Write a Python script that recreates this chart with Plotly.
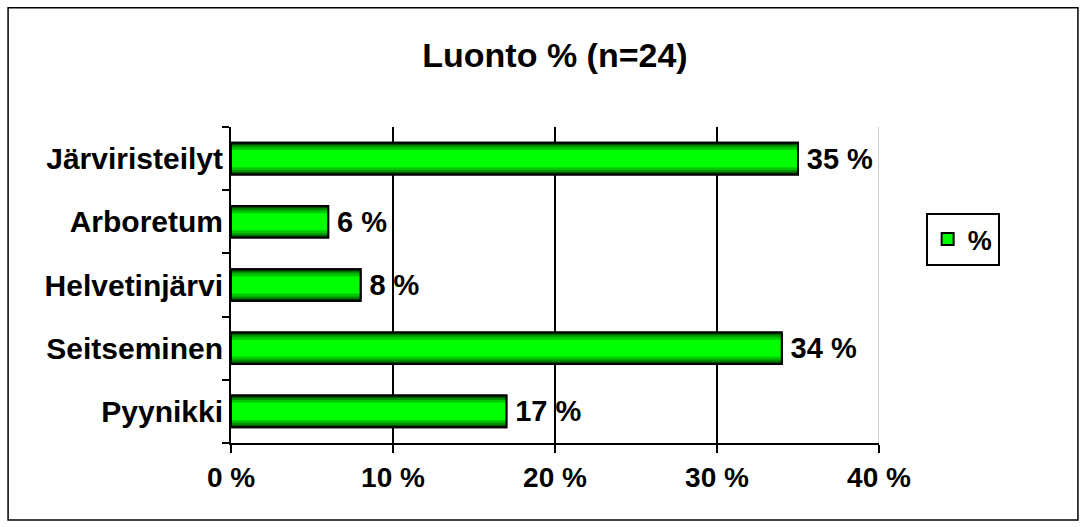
import plotly.graph_objs as go

# Data
places = ['Pyynikki', 'Seitseminen', 'Helvetinjärvi', 'Arboretum', 'Järviristeilyt']
shares = [17, 34, 8, 6, 35]
x_ticks = [0, 10, 20, 30, 40]

font_family = 'Arial, Liberation Sans, sans-serif'

fig = go.Figure()

# Base bar: bright green with outline (this one gives the legend symbol)
fig.add_trace(go.Bar(
    y=places, x=shares, orientation='h', name='%', width=0.5,
    marker=dict(color='#00ff00', line=dict(color='black', width=2)),
))

# Darker-to-lighter layers to fake the gradient fill
for w, c in [(0.5, '#004d00'), (0.43, '#009000'), (0.36, '#00c800'), (0.27, '#00ff00')]:
    fig.add_trace(go.Bar(
        y=places, x=shares, orientation='h', width=w, showlegend=False,
        marker=dict(color=c, line=dict(width=0)), hoverinfo='skip',
    ))

# Outline on top, carrying the value labels
fig.add_trace(go.Bar(
    y=places, x=shares, orientation='h', width=0.5, showlegend=False,
    marker=dict(color='rgba(0,0,0,0)', line=dict(color='black', width=2)),
    text=[f'\u2009{v} %' for v in shares], textposition='outside', constraintext='none',
    textfont=dict(size=29, color='black', family=font_family, weight='bold'),
    cliponaxis=False, hoverinfo='skip',
))

# Grey right edge of plot area
fig.add_shape(type='line', xref='x', yref='paper', x0=40, x1=40, y0=0, y1=1,
              line=dict(color='#c0c0c0', width=1.5), layer='below')

# Border around the whole chart
fig.add_shape(type='rect', xref='paper', yref='paper',
              x0=-0.344, x1=1.307, y0=-0.244, y1=1.377,
              line=dict(color='black', width=1.5))

fig.update_layout(
    width=1086, height=527,
    margin=dict(l=231, r=207, t=127, b=84),
    barmode='overlay',
    plot_bgcolor='white', paper_bgcolor='white',
    font=dict(family=font_family, color='black', weight='bold'),
    title=dict(text='Luonto % (n=24)', x=0.5, xref='paper',
               y=1 - 55 / 527, yanchor='middle',
               font=dict(size=34, weight='bold')),
    legend=dict(x=1.072, y=0.728, xanchor='left', yanchor='top',
                bordercolor='black', borderwidth=2, bgcolor='white',
                font=dict(size=27, weight='bold'), itemwidth=30),
    showlegend=True,
)

fig.update_xaxes(
    range=[0, 40], tickvals=x_ticks, ticktext=[f'{v} %' for v in x_ticks],
    showgrid=True, gridcolor='black', gridwidth=1.5,
    showline=True, linecolor='black', linewidth=2,
    ticks='outside', ticklen=8, tickcolor='black', tickwidth=2,
    tickfont=dict(size=28, weight='bold'), zeroline=False,
)
fig.update_yaxes(
    categoryorder='array', categoryarray=places,
    tickson='boundaries', ticks='outside', ticklen=7, tickcolor='black', tickwidth=2,
    showline=True, linecolor='black', linewidth=2,
    tickfont=dict(size=30, weight='bold'), showgrid=False,
)

fig.write_html('out.html', config={'displayModeBar': False},
               post_script="document.body.style.margin='0';")
